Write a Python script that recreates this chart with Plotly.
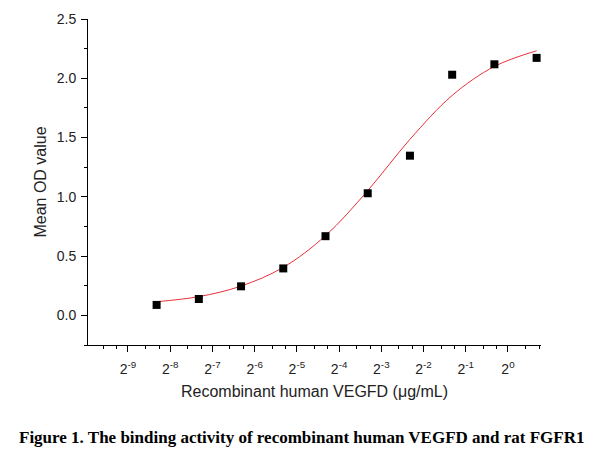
import plotly.graph_objects as go

# Data
conc_ug_ml = [0.003125, 0.00625, 0.0125, 0.025, 0.05, 0.1, 0.2, 0.4, 0.8, 1.6]
mean_od = [0.088, 0.138, 0.245, 0.396, 0.668, 1.030, 1.347, 2.030, 2.118, 2.172]
# Fitted (4PL) curve at the same concentrations
fit_od = [0.115, 0.158, 0.247, 0.405, 0.672, 1.052, 1.485, 1.855, 2.100, 2.232]

x_tick_exps = list(range(-9, 1))
x_tick_vals = [2.0 ** k for k in x_tick_exps]
x_tick_text = ["2<sup>%d</sup>" % k for k in x_tick_exps]
y_tick_vals = [0.0, 0.5, 1.0, 1.5, 2.0, 2.5]
y_tick_text = ["0.0", "0.5", "1.0", "1.5", "2.0", "2.5"]

x_minor = []
for k in range(-10, 1):
    x_minor += [2.0 ** k * 4 / 3, 2.0 ** k * 5 / 3]
y_minor = [-0.25, 0.25, 0.75, 1.25, 1.75, 2.25]

fig = go.Figure()
fig.add_trace(go.Scatter(
    x=conc_ug_ml, y=fit_od, mode="lines",
    line=dict(color="#e8303a", width=1, shape="spline", smoothing=1.0),
    hoverinfo="skip", showlegend=False))
fig.add_trace(go.Scatter(
    x=conc_ug_ml, y=mean_od, mode="markers",
    marker=dict(symbol="square", size=8, color="black"),
    showlegend=False))

axis_font = dict(family="Liberation Sans, Arial, sans-serif", size=14, color="#222")
fig.update_layout(
    width=612, height=456,
    margin=dict(l=88, r=71, t=11, b=111),
    paper_bgcolor="white", plot_bgcolor="white",
    showlegend=False,
    xaxis=dict(
        type="log",
        range=[-9.947 * 0.30103, 0.782 * 0.30103],
        tickmode="array", tickvals=x_tick_vals, ticktext=x_tick_text,
        ticks="outside", ticklen=6, tickwidth=1, tickcolor="black",
        ticklabelstandoff=5,
        minor=dict(tickmode="array", tickvals=x_minor, ticks="outside",
                   ticklen=3, tickwidth=1, tickcolor="black", showgrid=False),
        showline=True, linecolor="black", linewidth=1,
        showgrid=False, zeroline=False,
        tickfont=axis_font,
        title=dict(text="Recombinant human VEGFD (μg/mL)",
                   font=dict(family="Liberation Sans, Arial, sans-serif", size=16, color="#222"),
                   standoff=10),
    ),
    yaxis=dict(
        range=[-0.25, 2.5],
        tickmode="array", tickvals=y_tick_vals, ticktext=y_tick_text,
        ticks="outside", ticklen=6, tickwidth=1, tickcolor="black",
        ticklabelstandoff=2,
        minor=dict(tickmode="array", tickvals=y_minor, ticks="outside",
                   ticklen=3, tickwidth=1, tickcolor="black", showgrid=False),
        showline=True, linecolor="black", linewidth=1,
        showgrid=False, zeroline=False,
        tickfont=axis_font,
        title=dict(text="Mean OD value",
                   font=dict(family="Liberation Sans, Arial, sans-serif", size=16, color="#222"),
                   standoff=6),
    ),
    annotations=[dict(
        text="<b>Figure 1. The binding activity of recombinant human VEGFD and rat FGFR1</b>",
        xref="paper", yref="paper",
        x=(301 - 88) / (612 - 88 - 71), y=-(440 - 345) / (345 - 11),
        xanchor="center", yanchor="middle", showarrow=False,
        font=dict(family="Liberation Serif, Times New Roman, serif", size=17, color="black"),
    )],
)

fig.write_html("out.html")
